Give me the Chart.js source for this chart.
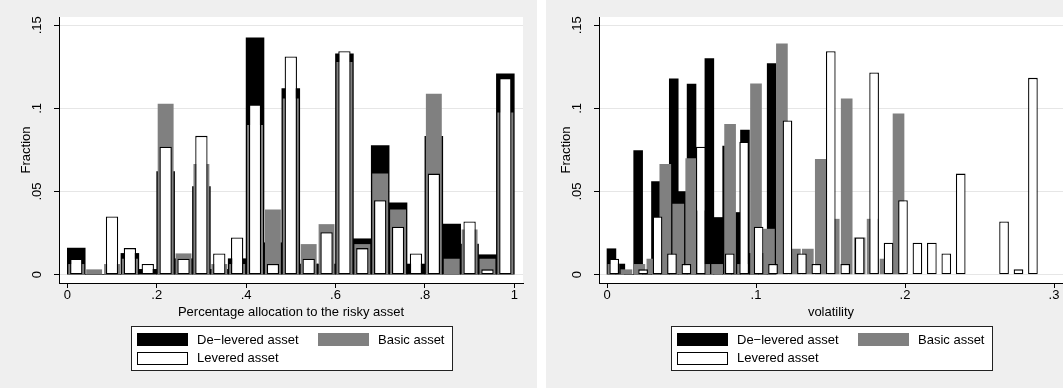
<!DOCTYPE html>
<html><head><meta charset="utf-8">
<script src="https://cdn.jsdelivr.net/npm/chart.js@4.4.1/dist/chart.umd.min.js"></script>
<style>
html,body{margin:0;padding:0;background:#fff;width:1063px;height:388px;overflow:hidden;position:relative;}
.panel{position:absolute;top:0;height:388px;background:#efefef;overflow:hidden;}
#p1{left:0;width:537px;}
#p2{left:546px;width:530px;}
canvas{display:block;}
</style></head><body>
<div class="panel" id="p1"><canvas id="c1" width="537" height="388"></canvas></div>
<div class="panel" id="p2"><canvas id="c2" width="530" height="388"></canvas></div>
<script>
// ---------- DATA ----------
const SERIES_LABELS = ['De\u2212levered asset', 'Basic asset', 'Levered asset'];

// Left panel: percentage allocation to the risky asset (bins of width .04)
const ALLOC_BINS = [0.02,0.06,0.10,0.14,0.18,0.22,0.26,0.30,0.34,0.38,0.42,0.46,0.50,0.54,0.58,0.62,0.66,0.70,0.74,0.78,0.82,0.86,0.90,0.94,0.98];
const ALLOC_DELEVERED = [0.016,0,0,0.0128,0.0032,0.062,0.0096,0.053,0.0032,0.0096,0.1424,0.0192,0.112,0.0064,0.0064,0.1328,0.0216,0.0776,0.0432,0.0064,0.0832,0.0304,0.0184,0.012,0.1208];
const ALLOC_BASIC     = [0.0064,0.0032,0.0064,0.0096,0,0.1028,0.0128,0.0666,0.0064,0.0064,0.09,0.0392,0.106,0.0184,0.0304,0.128,0.0184,0.0608,0.0392,0,0.1088,0.0096,0.0272,0.0096,0.0976];
const ALLOC_LEVERED   = [0.0096,0,0.035,0.016,0.0064,0.077,0.0096,0.0835,0.0128,0.0224,0.1024,0.0064,0.1312,0.0096,0.0256,0.1344,0.016,0.0448,0.0288,0.0128,0.0608,0,0.032,0.0032,0.1184];

// Right panel: volatility (each series has its own bins, from 0 to its max)
const VOL_DELEVERED_MAX = 0.1135;
const VOL_BASIC_MAX = 0.2;
const VOL_LEVERED_MAX = 0.2907;
const VOL_DELEVERED = [0.0156,0.0064,0,0.0746,0,0.056,0.0064,0.1178,0.05,0.1146,0.0384,0.13,0.0344,0.0774,0.0374,0.087,0.0128,0.0128,0.127];
const VOL_BASIC = [0.0064,0.0032,0.0064,0.0096,0.0666,0.0426,0.07,0.0064,0.0064,0.0906,0.0064,0.115,0.0276,0.139,0.0156,0.0156,0.0696,0.0336,0.106,0.0224,0.0336,0.0096,0.097];
const VOL_LEVERED = [0.0096,0,0.0032,0.035,0.0128,0.0064,0.077,0,0.0128,0.08,0.0288,0.0064,0.0928,0.0128,0.0064,0.1344,0.0064,0.0224,0.1216,0.0192,0.0448,0.0192,0.0192,0.0128,0.0608,0,0,0.032,0.0032,0.1184];

const Y_TICKS = [0, 0.05, 0.1, 0.15];
const Y_TICK_LABELS = ['0', '.05', '.1', '.15'];
const ALLOC_TICKS = [0, 0.2, 0.4, 0.6, 0.8, 1];
const ALLOC_TICK_LABELS = ['0', '.2', '.4', '.6', '.8', '1'];
const VOL_TICKS = [0, 0.1, 0.2, 0.3];
const VOL_TICK_LABELS = ['0', '.1', '.2', '.3'];

// ---------- helpers ----------
function binCenters(n, max) { const w = max / n; const out = []; for (let k = 0; k < n; k++) out.push((k + 0.5) * w); return out; }
function pts(xs, ys) { return xs.map((x, i) => ({x: x, y: ys[i]})); }

const FONT = {family: "'Liberation Sans', Arial, Helvetica, sans-serif", size: 13};
Chart.defaults.font.family = FONT.family;
Chart.defaults.font.size = 13;
Chart.defaults.color = '#000';

const STYLE = {
  black: {backgroundColor: '#000000', borderWidth: 0},
  gray:  {backgroundColor: '#808080', borderWidth: 0},
  white: {backgroundColor: '#ffffff', borderColor: '#000000', borderWidth: 1.3, borderSkipped: false}
};

const plotBg = {
  id: 'plotBg',
  beforeDraw(chart) {
    const {ctx, chartArea: a} = chart;
    ctx.save(); ctx.fillStyle = '#ffffff';
    ctx.fillRect(a.left, a.top, a.right - a.left, a.bottom - a.top);
    ctx.restore();
  }
};

const boxLegend = {
  id: 'boxLegend',
  afterDraw(chart, args, o) {
    const ctx = chart.ctx, a = chart.chartArea;
    const L = Math.round((a.left + a.right) / 2 - o.width / 2) + 0.5, T = o.top + 0.5;
    ctx.save();
    ctx.fillStyle = '#fff'; ctx.fillRect(L, T, o.width, o.height);
    ctx.strokeStyle = '#222'; ctx.lineWidth = 1; ctx.strokeRect(L, T, o.width, o.height);
    ctx.font = FONT.size + 'px ' + FONT.family; ctx.textBaseline = 'middle'; ctx.textAlign = 'left';
    chart.data.datasets.forEach((ds, i) => {
      const col = i % 2, row = Math.floor(i / 2);
      const sx = Math.round(L + o.swatchX[col]), sy = T + o.rowY[row];
      const top = Math.round(sy - o.swatchH / 2);
      ctx.fillStyle = ds.backgroundColor; ctx.fillRect(sx, top, o.swatchW, o.swatchH);
      if (ds.borderWidth) { ctx.strokeStyle = ds.borderColor; ctx.lineWidth = 1; ctx.strokeRect(sx + 0.5, top + 0.5, o.swatchW - 1, o.swatchH - 1); }
      ctx.fillStyle = '#000'; ctx.fillText(ds.label, sx + o.swatchW + o.gap, sy + 0.5);
    });
    ctx.restore();
  }
};

function yScale() {
  return {
    type: 'linear', min: -0.005, max: 0.155,
    afterBuildTicks: s => { s.ticks = Y_TICKS.map(v => ({value: v})); },
    afterFit: s => { s.width = 53; },
    ticks: {autoSkip: false, minRotation: 90, maxRotation: 90, crossAlign: 'center', padding: 7.6, font: FONT, color: '#000',
            callback: (v, i) => Y_TICK_LABELS[i]},
    grid: {color: '#e6e6e6', lineWidth: 1, tickColor: '#000', tickLength: 5, drawTicks: true},
    border: {display: true, color: '#000', width: 1},
    title: {display: true, text: 'Fraction', font: FONT, color: '#000', padding: {top: 12.9, bottom: 0}}
  };
}
function xScale(min, max, ticks, labels, title) {
  return {
    type: 'linear', position: 'bottom', min: min, max: max, offset: false,
    afterBuildTicks: s => { s.ticks = ticks.map(v => ({value: v})); },
    afterFit: s => { s.height = 37; },
    ticks: {autoSkip: false, maxRotation: 0, minRotation: 0, padding: 0, font: FONT, color: '#000',
            callback: (v, i) => labels[i]},
    grid: {offset: false, drawOnChartArea: false, drawTicks: true, tickLength: 5, tickColor: '#000', color: '#000'},
    border: {display: true, color: '#000', width: 1},
    title: {display: true, text: title, font: FONT, color: '#000', padding: {top: 0, bottom: 0}}
  };
}
function hiddenX(min, max, ticks) {
  return {type: 'linear', display: false, position: 'bottom', min: min, max: max, offset: false, grid: {offset: false},
          afterBuildTicks: s => { s.ticks = ticks.map(v => ({value: v})); }};
}
const LEGEND_OPTS = {top: 326, width: 321, height: 44, swatchX: [5, 186], swatchW: 51, swatchH: 13, rowY: [13, 31.5], gap: 9};

function baseOptions(padLeft, padRight, scales) {
  return {
    responsive: false, animation: false, devicePixelRatio: 1,
    layout: {padding: {left: padLeft, right: padRight, top: 17, bottom: 68}},
    plugins: {legend: {display: false}, tooltip: {enabled: false}, boxLegend: LEGEND_OPTS},
    scales: scales
  };
}

// ---------- Left chart ----------
new Chart(document.getElementById('c1'), {
  type: 'bar',
  data: {datasets: [
    Object.assign({label: SERIES_LABELS[0], data: pts(ALLOC_BINS, ALLOC_DELEVERED), grouped: false, barPercentage: 1.0, categoryPercentage: 1.0, order: 3}, STYLE.black),
    Object.assign({label: SERIES_LABELS[1], data: pts(ALLOC_BINS, ALLOC_BASIC), grouped: false, barPercentage: 0.89, categoryPercentage: 1.0, order: 2}, STYLE.gray),
    Object.assign({label: SERIES_LABELS[2], data: pts(ALLOC_BINS, ALLOC_LEVERED), grouped: false, barPercentage: 0.69, categoryPercentage: 1.0, order: 1}, STYLE.white)
  ]},
  options: baseOptions(6, 14, {
    x: xScale(-0.0186, 1.0195, ALLOC_TICKS, ALLOC_TICK_LABELS, 'Percentage allocation to the risky asset'),
    y: yScale()
  }),
  plugins: [plotBg, boxLegend]
});

// ---------- Right chart ----------
const VMIN = -0.00537, VMAX = 0.30604;
new Chart(document.getElementById('c2'), {
  type: 'bar',
  data: {datasets: [
    Object.assign({label: SERIES_LABELS[0], data: pts(binCenters(VOL_DELEVERED.length, VOL_DELEVERED_MAX), VOL_DELEVERED), xAxisID: 'xb', grouped: false, barPercentage: 1.0, categoryPercentage: 1.0, order: 3}, STYLE.black),
    Object.assign({label: SERIES_LABELS[1], data: pts(binCenters(VOL_BASIC.length, VOL_BASIC_MAX), VOL_BASIC), xAxisID: 'xg', grouped: false, barPercentage: 0.9, categoryPercentage: 1.0, order: 2}, STYLE.gray),
    Object.assign({label: SERIES_LABELS[2], data: pts(binCenters(VOL_LEVERED.length, VOL_LEVERED_MAX), VOL_LEVERED), xAxisID: 'x', grouped: false, barPercentage: 0.67, categoryPercentage: 1.0, order: 1}, STYLE.white)
  ]},
  options: baseOptions(0, 13, {
    x: xScale(VMIN, VMAX, VOL_TICKS, VOL_TICK_LABELS, 'volatility'),
    xb: hiddenX(VMIN, VMAX, VOL_TICKS),
    xg: hiddenX(VMIN, VMAX, VOL_TICKS),
    y: yScale()
  }),
  plugins: [plotBg, boxLegend]
});
</script>
</body></html>
